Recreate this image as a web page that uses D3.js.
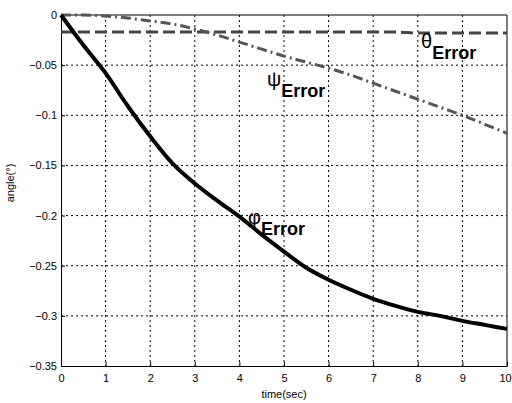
<html>
<script src='https://d3js.org/d3.v7.min.js'></script>
<head>
<style>
  body {margin: 0; background: #fff;}
  text {font-family: Arial, "Liberation Sans", sans-serif;}
</style>
</head>
<body>
<svg width=512 height=403></svg>
<script>
// time samples and read-off values
var time = [0, 0.5, 1, 1.5, 2, 2.5, 3, 3.5, 4, 4.5, 5, 5.5, 6, 6.5, 7, 7.5, 8, 8.5, 9, 9.5, 10];
var phiError = [0, -0.03, -0.058, -0.091, -0.121, -0.148, -0.168, -0.185, -0.201, -0.219, -0.236, -0.252, -0.264, -0.274, -0.283, -0.29, -0.296, -0.3, -0.305, -0.309, -0.313];
var psiError = [0, 0, -0.001, -0.003, -0.006, -0.009, -0.014, -0.02, -0.027, -0.034, -0.041, -0.047, -0.053, -0.06, -0.068, -0.076, -0.084, -0.092, -0.1, -0.109, -0.118];
var thetaError = [-0.017, -0.017, -0.017, -0.017, -0.017, -0.017, -0.017, -0.017, -0.017, -0.017, -0.017, -0.017, -0.017, -0.017, -0.017, -0.017, -0.018, -0.018, -0.018, -0.018, -0.018];
var xTicks = [0, 1, 2, 3, 4, 5, 6, 7, 8, 9, 10];
var yTicks = [0, -0.05, -0.1, -0.15, -0.2, -0.25, -0.3, -0.35];

var marginLeft = 61, marginTop = 15, w = 446, h = 351;

var svg = d3.select('svg');
var g = svg.append('g').attr('transform', 'translate(' + marginLeft + ',' + marginTop + ')');

var xs = d3.scaleLinear().domain([0, 10]).range([0, w]);
var ys = d3.scaleLinear().domain([-0.35, 0]).range([h, 0]);

// grid
g.selectAll('.vgrid').data(xTicks.slice(1, -1)).enter().append('line')
    .attr('x1', d => xs(d)).attr('x2', d => xs(d))
    .attr('y1', 0).attr('y2', h)
    .style('stroke', '#000').style('stroke-width', 1).style('stroke-dasharray', '2,3');
g.selectAll('.hgrid').data(yTicks.slice(1, -1)).enter().append('line')
    .attr('y1', d => ys(d)).attr('y2', d => ys(d))
    .attr('x1', 0).attr('x2', w)
    .style('stroke', '#000').style('stroke-width', 1).style('stroke-dasharray', '2,3');

// axes
var xAxis = g.append('g').attr('transform', 'translate(0,' + h + ')')
    .call(d3.axisBottom(xs).tickValues(xTicks).tickSizeInner(-4).tickSizeOuter(0).tickPadding(8).tickFormat(d3.format('d')));
var yAxis = g.append('g')
    .call(d3.axisLeft(ys).tickValues(yTicks).tickSizeInner(-4).tickSizeOuter(0).tickPadding(4).tickFormat(d => d === 0 ? '0' : d3.format('')(d)));
[xAxis, yAxis].forEach(function(a) {
    a.selectAll('text').style('font-size', '11px').style('fill', '#000');
    a.selectAll('line').style('stroke', '#000');
    a.select('.domain').style('stroke', '#000');
});
// last x label sits at the window edge
xAxis.selectAll('.tick').filter(d => d === 10).select('text').attr('dx', -2);

// top and right border
g.append('line').attr('x1', 0).attr('x2', w).attr('y1', 0).attr('y2', 0).style('stroke', '#000');
g.append('line').attr('x1', w).attr('x2', w).attr('y1', 0).attr('y2', h).style('stroke', '#000');

var line = function(vals) {
    return d3.line().curve(d3.curveMonotoneX)
        .x((d, i) => xs(time[i])).y(d => ys(d))(vals);
};

g.append('path').attr('d', line(thetaError))
    .style('fill', 'none').style('stroke', '#444').style('stroke-width', 3).style('stroke-dasharray', '12,5');
g.append('path').attr('d', line(psiError))
    .style('fill', 'none').style('stroke', '#555').style('stroke-width', 3).style('stroke-dasharray', '10,4,2,4');
g.append('path').attr('d', line(phiError))
    .style('fill', 'none').style('stroke', '#000').style('stroke-width', 4);

// curve labels
function label(x, y, greek) {
    var t = svg.append('text').attr('x', x).attr('y', y).style('font-size', '20px');
    t.append('tspan').text(greek);
    t.append('tspan').attr('dy', 11).style('font-weight', 'bold').style('font-size', '18px').text('Error');
}
label(421, 48, 'θ');
label(267, 86, 'ψ');
label(248, 224, 'φ');

// axis titles
svg.append('text').attr('x', 284).attr('y', 398).attr('text-anchor', 'middle')
    .style('font-size', '11px').text('time(sec)');
svg.append('text').attr('transform', 'translate(14,183) rotate(-90)').attr('text-anchor', 'middle')
    .style('font-size', '11px').text('angle(°)');
</script>
</body>
</html>
